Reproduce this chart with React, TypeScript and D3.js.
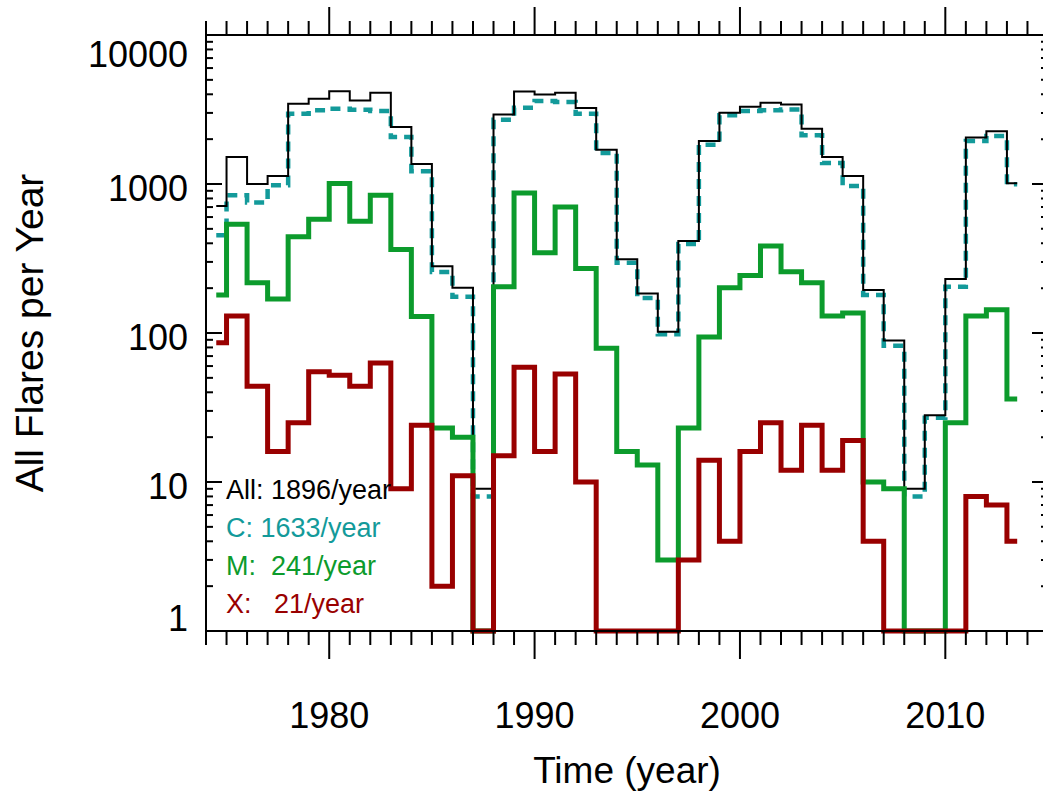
import { useRef, useEffect } from 'react'
import * as d3 from 'd3'

// yearly flare counts (0 = no flares, drawn on the bottom axis)
const years = [
  1974, 1975, 1976, 1977, 1978, 1979, 1980, 1981, 1982, 1983,
  1984, 1985, 1986, 1987, 1988, 1989, 1990, 1991, 1992, 1993,
  1994, 1995, 1996, 1997, 1998, 1999, 2000, 2001, 2002, 2003,
  2004, 2005, 2006, 2007, 2008, 2009, 2010, 2011, 2012, 2013,
]
const allFlares = [
  713, 1520, 1000, 1130, 3460, 3740, 4200, 3640, 4100, 2410,
  1360, 281, 201, 9, 2930, 4180, 3990, 4100, 3240, 1700,
  312, 184, 102, 415, 1940, 3010, 3300, 3510, 3410, 2350,
  1520, 1130, 194, 89, 9, 28, 230, 2050, 2260, 1010,
]
const cFlares = [
  453, 840, 752, 981, 2966, 3120, 3200, 3150, 3090, 2066,
  1217, 257, 175, 8, 2704, 3252, 3600, 3545, 2966, 1615,
  296, 172, 98, 395, 1837, 2890, 3085, 3120, 3160, 2122,
  1384, 970, 180, 82, 8, 27, 204, 1944, 2099, 996,
]
const mFlares = [
  180, 537, 217, 169, 442, 580, 1007, 563, 840, 364,
  129, 23, 20, 0, 204, 871, 345, 702, 271, 79,
  16, 13, 3, 23, 94, 201, 243, 383, 258, 217,
  130, 136, 10, 9, 0, 0, 25, 130, 143, 36,
]
const xFlares = [
  86, 130, 44, 16, 25, 55, 52, 44, 63, 9,
  24, 2, 11, 0, 15, 59, 16, 53, 10, 0,
  0, 0, 0, 3, 14, 4, 16, 25, 12, 24,
  12, 19, 4, 0, 0, 0, 0, 8, 7, 4,
]

const yTicks = [1, 10, 100, 1000, 10000]
const xLabels = [1980, 1990, 2000, 2010]
const legendText = ['All: 1896/year', 'C: 1633/year', 'M:  241/year', 'X:   21/year']

const BLACK = '#000000'
const TEAL = '#139a9a'
const GREEN = '#0c9b2c'
const RED = '#990000'
const FONT = '"Liberation Sans", Arial, Helvetica, sans-serif'

export default function App() {
  const svgRef = useRef<SVGSVGElement>(null)

  useEffect(() => {
    if (!svgRef.current) return
    const svg = d3.select(svgRef.current)
    svg.selectAll('*').remove()

    const left = 206
    const right = 1048
    const top = 35
    const bottom = 631

    const x = d3.scaleLinear().domain([1974, 2015]).range([left, right])
    const y = d3.scaleLog().domain([1, 10000]).range([bottom, top])

    // histogram-style step lines, each bin centred on year + 0.5
    const line = d3
      .line<number>()
      .x((_, i) => x(years[i] + 0.5))
      .y((v) => y(Math.max(v, 1)))
      .curve(d3.curveStep)

    const series = [
      { values: cFlares, color: TEAL, width: 4.5, dash: '10,7' },
      { values: allFlares, color: BLACK, width: 2, dash: null },
      { values: mFlares, color: GREEN, width: 5, dash: null },
      { values: xFlares, color: RED, width: 5, dash: null },
    ]

    const g = svg.append('g')
    for (const s of series) {
      g.append('path')
        .attr('d', line(s.values))
        .attr('fill', 'none')
        .attr('stroke', s.color)
        .attr('stroke-width', s.width)
        .attr('stroke-dasharray', s.dash)
        .attr('stroke-linejoin', 'miter')
        .attr('stroke-linecap', 'butt')
    }

    // frame
    const axes = svg.append('g').attr('stroke', BLACK).attr('stroke-width', 2)
    axes.append('line').attr('x1', left).attr('x2', left).attr('y1', top).attr('y2', bottom)
    axes.append('line').attr('x1', right).attr('x2', right).attr('y1', top).attr('y2', bottom)
    axes.append('line').attr('x1', left - 1).attr('x2', right + 1).attr('y1', top).attr('y2', top)
    axes.append('line').attr('x1', left - 1).attr('x2', right + 1).attr('y1', bottom).attr('y2', bottom)

    // x ticks: every year, longer every decade, outward on both top and bottom
    const yearTicks = d3.range(1974, 2016)
    for (const t of yearTicks) {
      const len = t % 10 === 0 ? 28 : 14
      axes.append('line').attr('x1', x(t)).attr('x2', x(t)).attr('y1', bottom).attr('y2', bottom + len)
      axes.append('line').attr('x1', x(t)).attr('x2', x(t)).attr('y1', top).attr('y2', top - len)
    }

    // y ticks: inward on both sides
    for (const d of yTicks) {
      axes.append('line').attr('x1', left).attr('x2', left + 16).attr('y1', y(d)).attr('y2', y(d))
      axes.append('line').attr('x1', right).attr('x2', right - 16).attr('y1', y(d)).attr('y2', y(d))
      if (d === 10000) continue
      for (let k = 2; k <= 9; k++) {
        const v = d * k
        axes.append('line').attr('x1', left).attr('x2', left + 7).attr('y1', y(v)).attr('y2', y(v))
        axes.append('line').attr('x1', right).attr('x2', right - 7).attr('y1', y(v)).attr('y2', y(v))
      }
    }

    // tick labels
    const labels = svg.append('g').attr('font-family', FONT).attr('fill', BLACK)
    labels
      .selectAll('text.ylab')
      .data(yTicks)
      .join('text')
      .attr('class', 'ylab')
      .attr('x', 188)
      .attr('y', (d) => Math.min(Math.max(y(d) + 4, top + 19), bottom - 13))
      .attr('text-anchor', 'end')
      .attr('dominant-baseline', 'central')
      .attr('font-size', 36)
      .text((d) => String(d))

    labels
      .selectAll('text.xlab')
      .data(xLabels)
      .join('text')
      .attr('class', 'xlab')
      .attr('x', (d) => x(d))
      .attr('y', 728)
      .attr('text-anchor', 'middle')
      .attr('font-size', 36)
      .text((d) => String(d))

    labels
      .append('text')
      .attr('x', (left + right) / 2)
      .attr('y', 783)
      .attr('text-anchor', 'middle')
      .attr('font-size', 37)
      .text('Time (year)')

    labels
      .append('text')
      .attr('transform', `translate(43,${(top + bottom) / 2}) rotate(-90)`)
      .attr('text-anchor', 'middle')
      .attr('font-size', 39)
      .text('All Flares per Year')

    // legend
    const legendColors = [BLACK, TEAL, GREEN, RED]
    labels
      .selectAll('text.leg')
      .data(legendText)
      .join('text')
      .attr('class', 'leg')
      .attr('x', 226)
      .attr('y', (_, i) => 499 + i * 38)
      .attr('font-size', 27)
      .attr('fill', (_, i) => legendColors[i])
      .style('white-space', 'pre')
      .text((d) => d)
  }, [])

  return (
    <svg
      ref={svgRef}
      width={1043}
      height={799}
      style={{ position: 'absolute', left: 0, top: 0, background: '#fff' }}
    />
  )
}
